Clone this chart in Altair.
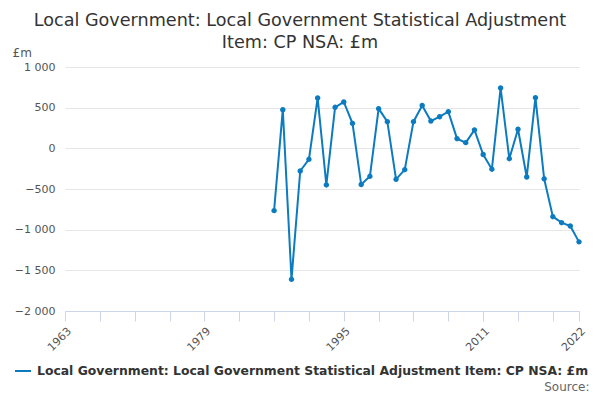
import altair as alt
import pandas as pd

years = list(range(1987, 2023))
values = [-766, 475, -1611, -279, -135, 619, -450, 504, 570, 307,
          -445, -344, 488, 328, -381, -262, 328, 527, 335, 389,
          451, 119, 70, 225, -76, -256, 742, -127, 234, -352,
          623, -375, -840, -914, -955, -1150]
series_name = "Local Government: Local Government Statistical Adjustment Item: CP NSA: £m"
title_lines = ["Local Government: Local Government Statistical Adjustment",
               "Item: CP NSA: £m"]
x_ticks = list(range(1963, 2022, 4)) + [2022]
x_labels = [1963, 1979, 1995, 2011, 2022]
y_ticks = [-2000, -1500, -1000, -500, 0, 500, 1000]

df = pd.DataFrame({"year": years, "value": values, "series": series_name})

color = "#0C7BC0"
font = "DejaVu Sans"

label_test = " || ".join(f"datum.value == {v}" for v in x_labels)

chart = alt.Chart(df).mark_line(
    color=color, strokeWidth=2,
    point=alt.OverlayMarkDef(color=color, size=12, filled=True)
).encode(
    x=alt.X("year:Q",
            scale=alt.Scale(domain=[1963, 2022], nice=False, zero=False),
            axis=alt.Axis(values=x_ticks, format="d", grid=False,
                          labelExpr=f"({label_test}) ? toString(datum.value) : ''",
                          labelOverlap=False,
                          labelAngle=-45, labelFontSize=11, labelColor="#555",
                          labelFont=font, labelPadding=4,
                          domainColor="#ccd6eb", tickColor="#ccd6eb", tickSize=10,
                          title="Source:", titleFont=font, titleFontSize=12,
                          titleFontWeight="normal", titleColor="#666",
                          titleAlign="right", titleAnchor="end", titleX=524,
                          titleY=79, titleBaseline="alphabetic")),
    y=alt.Y("value:Q",
            scale=alt.Scale(domain=[-2000, 1000], nice=False),
            axis=alt.Axis(values=y_ticks, grid=True, gridColor="#e6e6e6",
                          domain=False, ticks=False,
                          labelExpr="replace(format(datum.value, ','), ',', ' ')",
                          labelFontSize=11, labelColor="#555", labelFont=font,
                          labelPadding=10,
                          title="£m", titleAngle=0, titleFont=font,
                          titleFontSize=12, titleFontWeight="normal",
                          titleColor="#555", titleAlign="left",
                          titleX=-53, titleY=-15, titleBaseline="middle")),
    stroke=alt.Stroke("series:N",
                      scale=alt.Scale(range=[color]),
                      legend=alt.Legend(title=None, orient="none",
                                        legendX=-51, legendY=295,
                                        labelFont=font, labelFontSize=12.4,
                                        labelFontWeight="bold", labelOffset=5,
                                        labelColor="#333", labelLimit=0,
                                        symbolType="stroke", symbolStrokeWidth=2,
                                        symbolSize=256))
).properties(
    width=514, height=244,
    title=alt.TitleParams(text=title_lines, font=font, fontSize=17.6,
                          fontWeight="normal", color="#333", anchor="middle",
                          dx=-22, dy=18, offset=12, lineHeight=22),
    autosize=alt.AutoSizeParams(type="none"),
    padding={"left": 57, "top": 59, "right": 13, "bottom": 81}
).configure_view(stroke=None)

chart.save("out.html", embed_options={"renderer": "svg", "actions": False})
